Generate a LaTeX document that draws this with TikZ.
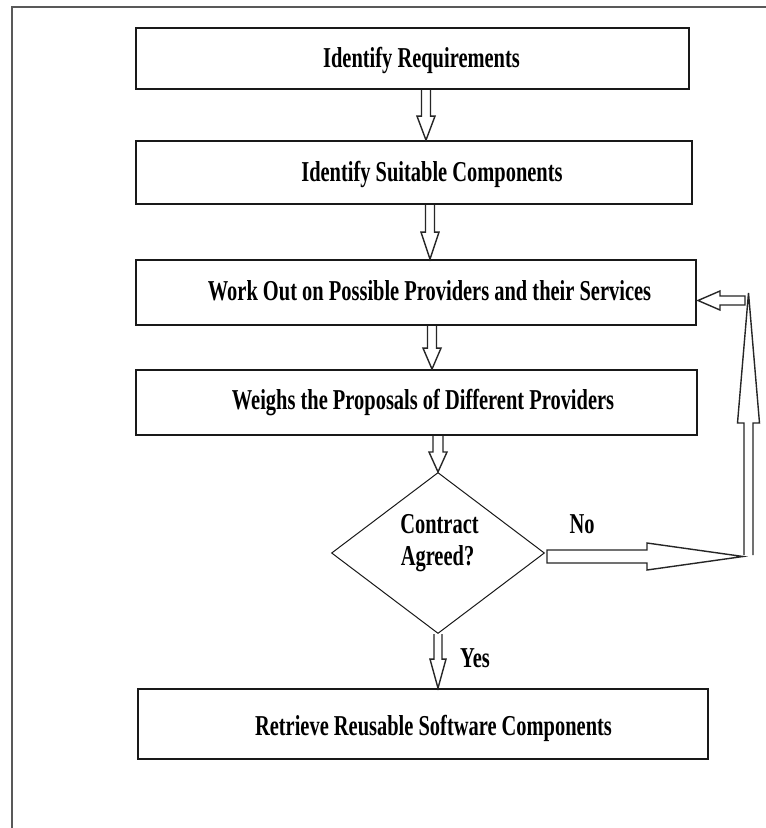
\documentclass[tikz,border=0pt]{standalone}
\usepackage{fontspec}
\newfontfamily\lblfont{Liberation Serif}[FakeStretch=0.71]
\usetikzlibrary{shapes.geometric,fit,calc}
\tikzset{
  boxnode/.style={draw=black!90, line width=1.8pt, rectangle, inner sep=0pt, fill=none},
  lbl/.style={font=\lblfont\bfseries\fontsize{28.8pt}{34pt}\selectfont, inner sep=0pt, anchor=base, text=black},
  conn/.style={draw=black!85, line width=1.4pt, line join=miter},
  framel/.style={draw=black!65, line width=2.5pt}
}
\newcommand\dnblk[5]{\draw[conn] let \p1=(#1), \p2=(#2) in
  ({\x1-#3pt},\y1) -- ({\x1-#3pt},{\y2+#5pt}) -- ({\x1-#4pt},{\y2+#5pt}) -- (\x1,\y2)
  -- ({\x1+#4pt},{\y2+#5pt}) -- ({\x1+#3pt},{\y2+#5pt}) -- ({\x1+#3pt},\y1);}
\newcommand\upblk[5]{\draw[conn] let \p1=(#1), \p2=(#2) in
  ({\x1-#3pt},\y1) -- ({\x1-#3pt},{\y2-#5pt}) -- ({\x1-#4pt},{\y2-#5pt}) -- (\x1,\y2)
  -- ({\x1+#4pt},{\y2-#5pt}) -- ({\x1+#3pt},{\y2-#5pt}) -- ({\x1+#3pt},\y1);}
\newcommand\rtblk[5]{\draw[conn] let \p1=(#1), \p2=(#2) in
  (\x1,{\y1-#3pt}) -- ({\x2-#5pt},{\y1-#3pt}) -- ({\x2-#5pt},{\y1-#4pt}) -- (\x2,\y1)
  -- ({\x2-#5pt},{\y1+#4pt}) -- ({\x2-#5pt},{\y1+#3pt}) -- (\x1,{\y1+#3pt}) -- cycle;}
\newcommand\ltblk[5]{\draw[conn] let \p1=(#1), \p2=(#2) in
  (\x1,{\y1-#3pt}) -- ({\x2+#5pt},{\y1-#3pt}) -- ({\x2+#5pt},{\y1-#4pt}) -- (\x2,\y1)
  -- ({\x2+#5pt},{\y1+#4pt}) -- ({\x2+#5pt},{\y1+#3pt}) -- (\x1,{\y1+#3pt}) -- cycle;}
\begin{document}
\begin{tikzpicture}[x=1pt,y=-1pt]
\useasboundingbox[fill=white] (0,0) rectangle (766,828);
% outer frame (cropped)
\draw[framel] (12,828) -- (12,7) -- (766,7);
% boxes
\node[boxnode, fit={(136,28) (689,89)}] (b1) {};
\node[boxnode, fit={(136,141) (692,204)}] (b2) {};
\node[boxnode, fit={(136,260) (696,325)}] (b3) {};
\node[boxnode, fit={(136,370) (697,435)}] (b4) {};
\node[boxnode, fit={(138,689) (708,759)}] (b5) {};
\node[draw=black!90, line width=1pt, diamond, inner sep=0pt, minimum width=213pt, minimum height=161pt] (dia) at (438,553) {};
% labels
\node[lbl] (t1) at (421.5,67) {Identify Requirements};
\node[lbl] (t2) at (432,181) {Identify Suitable Components};
\node[lbl] (t3) at (429.5,300) {Work Out on Possible Providers and their Services};
\node[lbl] (t4) at (423,409) {Weighs the Proposals of Different Providers};
\node[lbl] (t5) at (433.5,735) {Retrieve Reusable Software Components};
\node[lbl] (d1) at (439.5,533) {Contract};
\node[lbl] (d2) at (437.5,565) {Agreed?};
\node[lbl] (no) at (582,533) {No};
\node[lbl] (yes) at (475,667) {Yes};
% connector end points
\coordinate (a1s) at (b1.south -| 426,0);
\coordinate (a1e) at (b2.north -| 426,0);
\coordinate (a2s) at (b2.south -| 430,0);
\coordinate (a2e) at (b3.north -| 430,0);
\coordinate (a3s) at (b3.south -| 432,0);
\coordinate (a3e) at (b4.north -| 432,0);
\coordinate (a4s) at (b4.south -| 438,0);
\coordinate (a4e) at (dia.north);
\coordinate (a5s) at (dia.south);
\coordinate (a5e) at (b5.north -| 438,0);
\coordinate (n1) at (547,556.5);
\coordinate (c1) at (743,556.5);
\coordinate (c2) at (748.5,555);
\coordinate (c3) at (748.5,293);
\coordinate (c4) at (745,300.5);
\coordinate (c5) at (698,300.5);
% connectors
\dnblk{a1s}{a1e}{4.5}{9}{24}
\dnblk{a2s}{a2e}{4.5}{9}{27}
\dnblk{a3s}{a3e}{4.5}{9}{21}
\dnblk{a4s}{a4e}{5}{9}{20}
\dnblk{a5s}{a5e}{4}{8}{29}
\rtblk{n1}{c1}{6.5}{13.5}{96}
\upblk{c2}{c3}{4.5}{11}{130}
\ltblk{c4}{c5}{4.5}{9.5}{22}
\end{tikzpicture}
\end{document}
